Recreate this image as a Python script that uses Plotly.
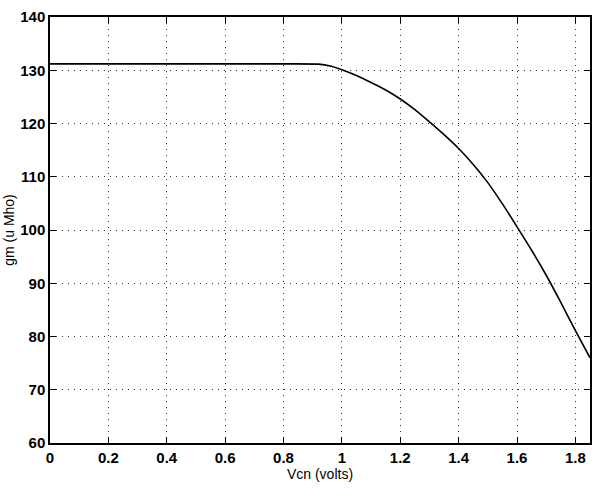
import plotly.graph_objects as go

vcn = [0.0, 0.2, 0.4, 0.6, 0.8, 0.92, 0.96, 1.0, 1.05, 1.1, 1.15, 1.2, 1.25, 1.3, 1.35, 1.4, 1.45, 1.5, 1.55, 1.6, 1.65, 1.7, 1.75, 1.8, 1.85]
gm = [131.2, 131.2, 131.2, 131.2, 131.2, 131.15, 130.8, 130.1, 129.0, 127.7, 126.3, 124.6, 122.6, 120.3, 117.9, 115.3, 112.3, 108.9, 104.9, 100.6, 96.2, 91.5, 86.4, 81.1, 76.0]

x_ticks = [0, 0.2, 0.4, 0.6, 0.8, 1.0, 1.2, 1.4, 1.6, 1.8]
x_labels = ["0", "0.2", "0.4", "0.6", "0.8", "1", "1.2", "1.4", "1.6", "1.8"]
y_ticks = [60, 70, 80, 90, 100, 110, 120, 130, 140]

fig = go.Figure()
fig.add_trace(go.Scatter(x=vcn, y=gm, mode="lines",
                         line=dict(color="black", width=1.6, shape="spline", smoothing=0.6),
                         showlegend=False))

fam = "Liberation Sans, Arial, sans-serif"
fig.update_layout(
    width=600, height=496,
    margin=dict(l=44, r=8, t=8, b=53),
    paper_bgcolor="white", plot_bgcolor="white",
    font=dict(family=fam, color="black"),
)
common = dict(
    showgrid=True, gridcolor="#333333", griddash="1px,5px", gridwidth=1,
    showline=True, linecolor="black", linewidth=1.5, mirror="ticks",
    ticks="inside", ticklen=6, tickcolor="black",
    tickfont=dict(size=15, family=fam, color="black", weight="bold"),
    zeroline=False,
)
fig.update_xaxes(
    range=[0, 1.85], tickvals=x_ticks, ticktext=x_labels,
    title=dict(text="Vcn (volts)", font=dict(size=14, family=fam, color="black"), standoff=2),
    **common,
)
fig.update_yaxes(
    range=[60, 140], tickvals=y_ticks,
    title=dict(text="gm (u Mho)", font=dict(size=14, family=fam, color="black"), standoff=2),
    **common,
)

fig.write_html("out.html")
